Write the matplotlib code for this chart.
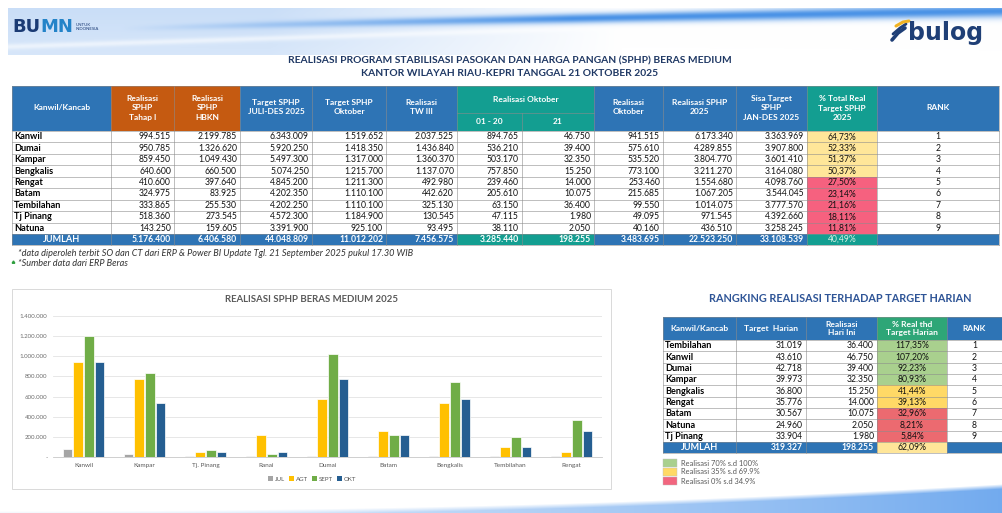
import numpy as np
import matplotlib
matplotlib.use("Agg")
import matplotlib.pyplot as plt
from matplotlib.patches import Rectangle, Patch

# ---------------- DATA ----------------
title_1 = "REALISASI PROGRAM STABILISASI PASOKAN DAN HARGA PANGAN (SPHP) BERAS MEDIUM"
title_2 = "KANTOR WILAYAH RIAU-KEPRI TANGGAL 21 OKTOBER 2025"

kancab = ["Kanwil", "Dumai", "Kampar", "Bengkalis", "Rengat", "Batam", "Tembilahan", "Tj Pinang", "Natuna"]
real_tahap1 = [994515, 950785, 859450, 640600, 410600, 324975, 333865, 518360, 143250]
real_hbkn = [2199785, 1326620, 1049430, 660500, 397640, 83925, 255530, 273545, 159605]
target_julides = [6343009, 5920250, 5497300, 5074250, 4845200, 4202350, 4202250, 4572300, 3391900]
target_okt = [1519652, 1418350, 1317000, 1215700, 1211300, 1110100, 1110100, 1184900, 925100]
real_tw3 = [2037525, 1436840, 1360370, 1137070, 492980, 442620, 325130, 130545, 93495]
real_okt_0120 = [894765, 536210, 503170, 757850, 239460, 205610, 63150, 47115, 38110]
real_okt_21 = [46750, 39400, 32350, 15250, 14000, 10075, 36400, 1980, 2050]
real_okt = [941515, 575610, 535520, 773100, 253460, 215685, 99550, 49095, 40160]
real_2025 = [6173340, 4289855, 3804770, 3211270, 1554680, 1067205, 1014075, 971545, 436510]
sisa_target = [3363969, 3907800, 3601410, 3164080, 4098760, 3544045, 3777570, 4392660, 3258245]
pct_total = [64.73, 52.33, 51.37, 50.37, 27.50, 23.14, 21.16, 18.11, 11.81]
rank_main = [1, 2, 3, 4, 5, 6, 7, 8, 9]
jumlah_main = [5176400, 6406580, 44048809, 11012202, 7456575, 3285440, 198255, 3483695, 22523250, 33108539]
jumlah_pct = 40.49

footnote_1 = "*data diperoleh terbit SO dan CT dari ERP & Power BI Update Tgl. 21 September 2025 pukul 17.30 WIB"
footnote_2 = "*Sumber data dari ERP Beras"

chart_title = "REALISASI SPHP BERAS MEDIUM 2025"
chart_cats = ["Kanwil", "Kampar", "Tj. Pinang", "Ranai", "Dumai", "Batam", "Bengkalis", "Tembilahan", "Rengat"]
series_names = ["JUL", "AGT", "SEPT", "OKT"]
jul = [79000, 30000, 13000, 10000, 13000, 8000, 8000, 12000, 8000]
agt = [942000, 771000, 46000, 221000, 576000, 257000, 537000, 102000, 49000]
sept = [1205000, 837000, 66000, 30000, 1021000, 217000, 748000, 198000, 372000]
okt = [941515, 540000, 46000, 53000, 774000, 217000, 580000, 102000, 257000]
yticks = [0, 200000, 400000, 600000, 800000, 1000000, 1200000, 1400000]

rank_title = "RANGKING REALISASI TERHADAP TARGET HARIAN"
rk_names = ["Tembilahan", "Kanwil", "Dumai", "Kampar", "Bengkalis", "Rengat", "Batam", "Natuna", "Tj Pinang"]
rk_target = [31019, 43610, 42718, 39973, 36800, 35776, 30567, 24960, 33904]
rk_real = [36400, 46750, 39400, 32350, 15250, 14000, 10075, 2050, 1980]
rk_pct = [117.35, 107.20, 92.23, 80.93, 41.44, 39.13, 32.96, 8.21, 5.84]
rk_rank = [1, 2, 3, 4, 5, 6, 7, 8, 9]
rk_jumlah = [319327, 198255]
rk_jumlah_pct = 62.09
legend_labels = ["Realisasi 70% s.d 100%", "Realisasi 35% s.d 69.9%", "Realisasi 0% s.d 34.9%"]

# ---------------- STYLE ----------------
BLUE = "#2E74B5"
ORANGE = "#C55A11"
TEAL = "#139E91"
GRID = "#8C8C8C"
FONT = "Lato"


def fmt(v):
    return f"{v:,}".replace(",", ".")


def fmtp(v):
    return f"{v:.2f}%".replace(".", ",")


fig = plt.figure(figsize=(10.03, 5.13), dpi=100)
fig.patch.set_facecolor("white")
ax0 = fig.add_axes([0, 0, 1, 1])
ax0.set_xlim(0, 1003)
ax0.set_ylim(513, 0)
ax0.axis("off")
ax0.set_zorder(0)


def rect(x0, y0, x1, y1, fc, ec="none", lw=0.0, z=1):
    ax0.add_patch(Rectangle((x0, y0), x1 - x0, y1 - y0, facecolor=fc, edgecolor=ec, linewidth=lw, zorder=z))


def txt(x, y, s, size, color="black", ha="center", weight="normal", style="normal", ls=1.2, z=5, family=FONT):
    return ax0.text(x, y, s, fontsize=size, color=color, ha=ha, va="center", fontweight=weight,
                    fontstyle=style, linespacing=ls, zorder=z, family=family, multialignment="center")


# ---------------- TOP BANNER ----------------
W = 1003
yb0, yb1 = 8, 55
X, Y = np.meshgrid(np.arange(W) + 0.5, np.arange(yb0, yb1) + 0.5)
t = X / W
img = np.ones(X.shape + (3,))
light = np.array([0.79, 0.87, 0.97])
base_amt = np.clip((0.62 - t) / 0.35, 0, 1) * (0.75 + 0.25 * (1 - (Y - yb0) / (yb1 - yb0)))
streak_c = 47 - 32 * t
base_amt = base_amt * (1 - 0.55 * np.exp(-((Y - streak_c) / 3.0) ** 2))
img = img * (1 - base_amt[..., None]) + light * base_amt[..., None]
yc = 34 - 23 * np.clip(t, 0, 1) ** 0.7
wd = 2.5 + 4.0 * t
blue_amt = np.exp(-((Y - yc) / wd) ** 2) * np.clip((t - 0.12) / 0.45, 0, 1) * 0.88
blue = np.array([0.20, 0.52, 0.89])
img = img * (1 - blue_amt[..., None]) + blue * blue_amt[..., None]
img[:, :8, :] = 1.0
ax0.imshow(img, extent=(0, W, yb1, yb0), aspect="auto", zorder=0, interpolation="bilinear")

# bottom swoosh
ys0, ys1 = 476, 513
X2, Y2 = np.meshgrid(np.arange(W) + 0.5, np.arange(ys0, ys1) + 0.5)
t2 = X2 / W
curve = 511 - 27 * t2 ** 2.2
amt = np.clip((Y2 - curve) / 5.0, 0, 1) * (0.22 + 0.7 * t2 ** 1.4)
sw = np.array([0.40, 0.64, 0.93])
img2 = np.ones(X2.shape + (3,)) * (1 - amt[..., None]) + sw * amt[..., None]
ax0.imshow(img2, extent=(0, W, ys1, ys0), aspect="auto", zorder=0, interpolation="bilinear")

# logos
bu = txt(12, 27, "BU", 13, color="#1B3B74", ha="left", weight="bold", family="DejaVu Sans")
mn = ax0.annotate("MN", xy=(1, 0.5), xycoords=bu, ha="left", va="center", fontsize=13,
                  color="#2383C8", fontweight="bold", family="DejaVu Sans", zorder=5)
ax0.annotate("UNTUK\nINDONESIA", xy=(1, 0.5), xycoords=mn, xytext=(2, 0), textcoords="offset points",
             ha="left", va="center", fontsize=3.2, color="#1B3B74", family=FONT, linespacing=1.1, zorder=5)
ax0.plot([892, 898, 905], [40, 33, 28], color="#1F3F76", lw=2.6, solid_capstyle="round", zorder=4)
ax0.plot([893, 900, 906], [34, 28, 24], color="#1F3F76", lw=2.0, solid_capstyle="round", zorder=4)
ax0.plot([896, 903, 909], [26, 22, 21], color="#F0B323", lw=2.2, solid_capstyle="round", zorder=4)
txt(908, 33, "bulog", 17, color="#1F3F76", ha="left", weight="bold", family="DejaVu Sans")

# titles
txt(510, 61, title_1, 7.4, color="#1F3864", weight="bold")
txt(510, 74, title_2, 7.4, color="#1F3864", weight="bold")

# ---------------- MAIN TABLE ----------------
cols = [12, 111, 174, 240, 312, 386, 457, 522, 594, 663, 736, 807, 877, 999]
h_top, h_mid, h_bot = 86, 113, 131
n = len(kancab)
row_h = (234 - h_bot) / n
rows = [h_bot + i * row_h for i in range(n + 1)]
j_top, j_bot = 234, 245

hdr_fill = [BLUE, ORANGE, ORANGE, BLUE, BLUE, BLUE, TEAL, TEAL, BLUE, BLUE, BLUE, TEAL, BLUE]
for c in range(13):
    rect(cols[c], h_top, cols[c + 1], h_bot, hdr_fill[c])
hdr_txt = ["Kanwil/Kancab", "Realisasi\nSPHP\nTahap I", "Realisasi\nSPHP\nHBKN", "Target SPHP\nJULI-DES 2025",
           "Target SPHP\nOktober", "Realisasi\nTW III", None, None, "Realisasi\nOktober", "Realisasi SPHP\n2025",
           "Sisa Target\nSPHP\nJAN-DES 2025", "% Total Real\nTarget SPHP\n2025", "RANK"]
hs = 6.0
for c, s in enumerate(hdr_txt):
    if s is None:
        continue
    yy = 108 if s.count("\n") == 2 else 107
    txt((cols[c] + cols[c + 1]) / 2, yy, s, hs, color="white", weight="bold", ls=1.35)
txt((cols[6] + cols[8]) / 2, 100, "Realisasi Oktober", hs, color="white", weight="bold")
txt((cols[6] + cols[7]) / 2, 122, "01 - 20", hs, color="white", weight="bold")
txt((cols[7] + cols[8]) / 2, 122, "21", hs, color="white", weight="bold")

# data rows
data_cols = [real_tahap1, real_hbkn, target_julides, target_okt, real_tw3, real_okt_0120, real_okt_21,
             real_okt, real_2025, sisa_target]
ds = 6.2
ns = 6.6


def pct_color(p, green, yellow, red):
    if p >= 70:
        return green
    if p >= 35:
        return yellow
    return red


for i in range(n):
    y0, y1 = rows[i], rows[i + 1]
    ym = (y0 + y1) / 2
    rect(cols[0], y0, cols[-1], y1, "white", z=1)
    rect(cols[11], y0, cols[12], y1, pct_color(pct_total[i], "#A9D08E", "#FFE699", "#F6617F"), z=1.5)
    txt(cols[0] + 2, ym, kancab[i], ns, ha="left", weight="bold")
    for k, arr in enumerate(data_cols):
        txt(cols[k + 2] - 3, ym, fmt(arr[i]), ds, ha="right", color="#111111")
    txt((cols[11] + cols[12]) / 2, ym, fmtp(pct_total[i]), ds, color="#111111")
    txt((cols[12] + cols[13]) / 2, ym, str(rank_main[i]), ds, color="#111111")

# jumlah row
j_fill = [BLUE, BLUE, BLUE, BLUE, BLUE, BLUE, TEAL, TEAL, BLUE, BLUE, BLUE, TEAL, BLUE]
for c in range(13):
    rect(cols[c], j_top, cols[c + 1], j_bot, j_fill[c])
jm = (j_top + j_bot) / 2
txt((cols[0] + cols[1]) / 2, jm, "JUMLAH", ns, color="white", weight="bold")
for k, v in enumerate(jumlah_main):
    txt(cols[k + 2] - 3, jm, fmt(v), ds, ha="right", color="white", weight="bold")
txt((cols[11] + cols[12]) / 2, jm, fmtp(jumlah_pct), ds, color="#D8F2E4")

# grid lines
for y in rows:
    ax0.plot([cols[0], cols[-1]], [y, y], color=GRID, lw=0.4, zorder=3)
ax0.plot([cols[0], cols[-1]], [h_top, h_top], color=GRID, lw=0.4, zorder=3)
ax0.plot([cols[0], cols[-1]], [j_bot, j_bot], color=GRID, lw=0.4, zorder=3)
ax0.plot([cols[6], cols[8]], [h_mid, h_mid], color=GRID, lw=0.4, zorder=3)
for c, x in enumerate(cols):
    ytop = h_mid if c == 7 else h_top
    ax0.plot([x, x], [ytop, j_bot], color=GRID, lw=0.4, zorder=3)

# footnotes
txt(18, 253, footnote_1, 6.6, color="#333333", ha="left", style="italic")
txt(18, 264, footnote_2, 6.6, color="#333333", ha="left", style="italic")
ax0.plot([13], [262], marker=(3, 0, 0), color="#2E9E3E", ms=2.2, zorder=4)

# ---------------- BAR CHART ----------------
rect(12, 289, 611, 489, "white", ec="#D9D9D9", lw=0.7, z=1)
txt(312, 300, chart_title, 6.9, color="#595959", weight="bold")

axb = fig.add_axes([53 / W, 1 - 457 / 513, (602 - 53) / W, (457 - 316) / 513])
axb.set_zorder(2)
axb.patch.set_alpha(0)
xs = np.arange(len(chart_cats))
ser = [jul, agt, sept, okt]
colors = ["#A5A5A5", "#FFC000", "#70AD47", "#255E91"]
step, bw = 0.175, 0.158
for k in range(4):
    axb.bar(xs + (k - 1.5) * step, ser[k], width=bw, color=colors[k], edgecolor="white", linewidth=0.5,
            zorder=3, label=series_names[k])
axb.set_xlim(-0.5, len(chart_cats) - 0.5)
axb.set_ylim(0, 1400000)
axb.set_yticks(yticks)
axb.set_yticklabels(["-" if v == 0 else fmt(v) for v in yticks], fontsize=4.4, color="#6E6E6E", family=FONT)
axb.set_xticks(xs)
axb.set_xticklabels(chart_cats, fontsize=4.6, color="#595959", family=FONT)
axb.tick_params(length=0, pad=4)
axb.tick_params(axis="y", pad=4)
axb.grid(axis="y", color="#E3E3E3", lw=0.6, zorder=0)
for s in ["top", "right", "left"]:
    axb.spines[s].set_visible(False)
axb.spines["bottom"].set_color("#C8C8C8")
axb.spines["bottom"].set_linewidth(0.6)
handles = [Patch(facecolor=c, edgecolor="none") for c in colors]
leg = axb.legend(handles, series_names, loc="center", bbox_to_anchor=(312 / W, 1 - 479 / 513),
                 bbox_transform=fig.transFigure, ncol=4, frameon=False,
                 handlelength=0.8, handleheight=0.8, columnspacing=0.7, handletextpad=0.3,
                 prop={"family": FONT, "size": 4.4})
for tx in leg.get_texts():
    tx.set_color("#595959")

# ---------------- RANK TABLE ----------------
txt(840, 298, rank_title, 7.8, color="#2F5597", weight="bold")
rc = [663, 736, 806, 877, 947, 1002]
r_top, r_hb = 317, 340
rn = len(rk_names)
r_rows = [r_hb + i * (442 - r_hb) / rn for i in range(rn + 1)]
rj_top, rj_bot = 442, 453
r_fill = [BLUE, BLUE, BLUE, "#2EA677", BLUE]
r_hdr = ["Kanwil/Kancab", "Target  Harian", "Realisasi\nHari Ini", "% Real thd\nTarget Harian", "RANK"]
for c in range(5):
    rect(rc[c], r_top, rc[c + 1], r_hb, r_fill[c])
    txt((rc[c] + rc[c + 1]) / 2, (r_top + r_hb) / 2, r_hdr[c], 6.1, color="white", weight="bold", ls=1.3)
for i in range(rn):
    y0, y1 = r_rows[i], r_rows[i + 1]
    ym = (y0 + y1) / 2
    rect(rc[0], y0, rc[-1], y1, "white")
    rect(rc[3], y0, rc[4], y1, pct_color(rk_pct[i], "#A9D08E", "#FFD966", "#EC6A70"), z=1.5)
    txt(rc[0] + 2, ym, rk_names[i], ns, ha="left", weight="bold")
    txt(rc[2] - 3, ym, fmt(rk_target[i]), ds, ha="right", color="#111111")
    txt(rc[3] - 3, ym, fmt(rk_real[i]), ds, ha="right", color="#111111")
    txt((rc[3] + rc[4]) / 2, ym, fmtp(rk_pct[i]), ds, color="#111111")
    txt((rc[4] + rc[5]) / 2, ym, str(rk_rank[i]), ds, color="#111111")
rj_fill = [BLUE, BLUE, BLUE, "#FFE699", BLUE]
for c in range(5):
    rect(rc[c], rj_top, rc[c + 1], rj_bot, rj_fill[c])
rjm = (rj_top + rj_bot) / 2
txt((rc[0] + rc[1]) / 2, rjm, "JUMLAH", ns, color="white", weight="bold")
txt(rc[2] - 3, rjm, fmt(rk_jumlah[0]), ds, ha="right", color="white", weight="bold")
txt(rc[3] - 3, rjm, fmt(rk_jumlah[1]), ds, ha="right", color="white", weight="bold")
txt((rc[3] + rc[4]) / 2, rjm, fmtp(rk_jumlah_pct), ds, color="#111111")
for y in r_rows + [r_top, rj_bot]:
    ax0.plot([rc[0], rc[-1]], [y, y], color=GRID, lw=0.4, zorder=3)
for x in rc:
    ax0.plot([x, x], [r_top, rj_bot], color=GRID, lw=0.4, zorder=3)

# legend of colour bands
lg_cols = ["#A9D08E", "#FFD966", "#F2667F"]
for i, (lab, c) in enumerate(zip(legend_labels, lg_cols)):
    yy = 463 + i * 9
    rect(663, yy - 4.3, 677, yy + 4.3, c, ec="#BFBFBF", lw=0.3)
    txt(681, yy, lab, 5.4, color="#595959", ha="left")

fig.savefig("out.png", dpi=100, facecolor="white")
